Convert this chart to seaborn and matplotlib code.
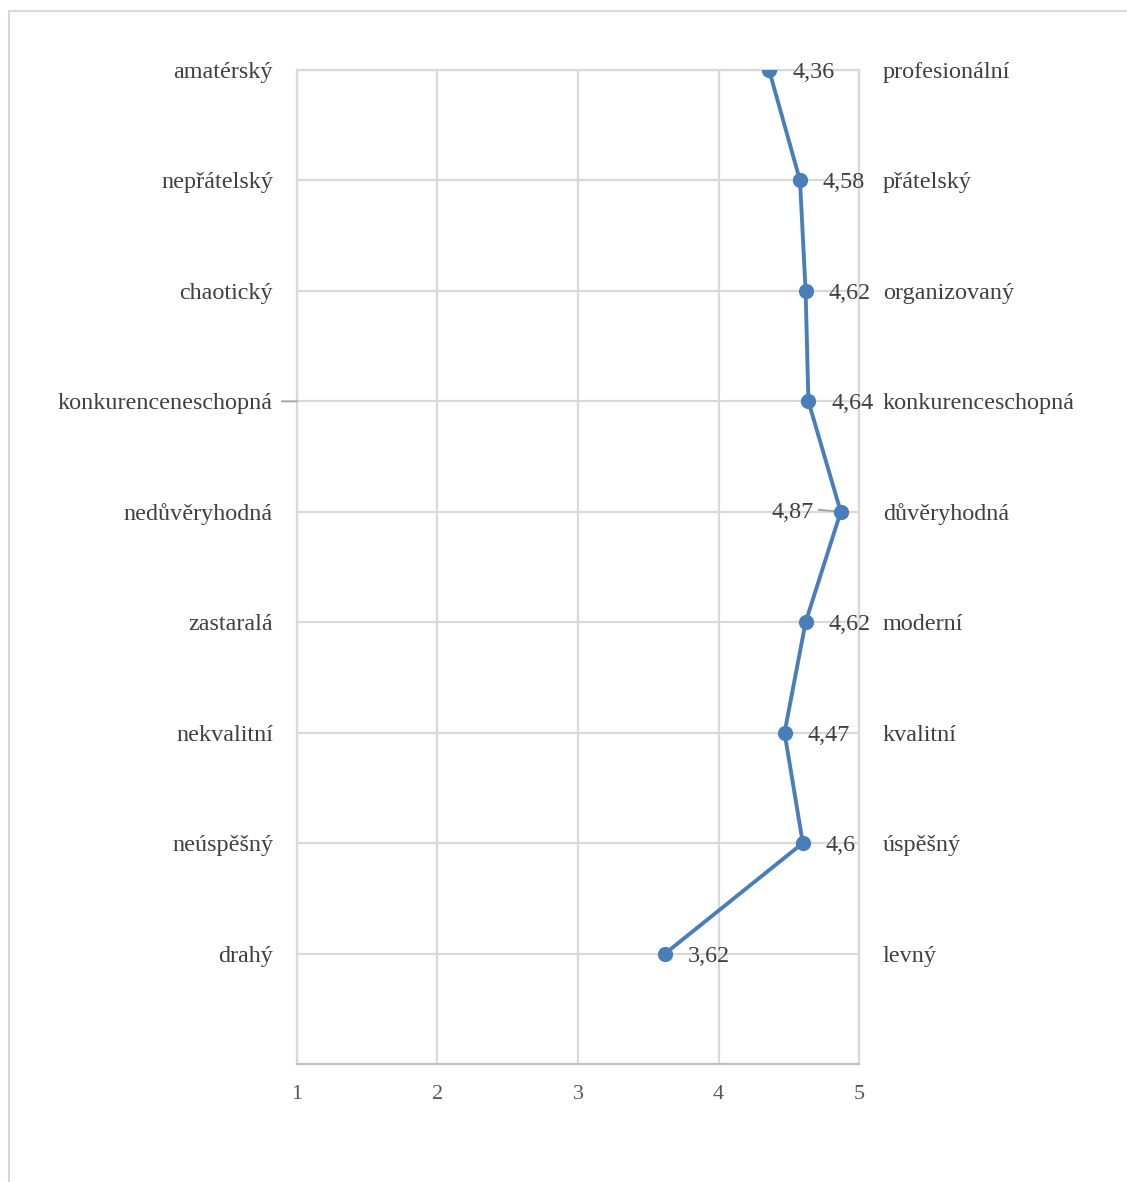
import matplotlib
matplotlib.use("Agg")
import matplotlib.pyplot as plt
import matplotlib.patches as mpatches
import seaborn as sns
import pandas as pd

# Semantic differential: negative pole (left), positive pole (right), mean score
left_labels = ["amatérský", "nepřátelský", "chaotický", "konkurenceneschopná",
               "nedůvěryhodná", "zastaralá", "nekvalitní", "neúspěšný", "drahý"]
right_labels = ["profesionální", "přátelský", "organizovaný", "konkurenceschopná",
                "důvěryhodná", "moderní", "kvalitní", "úspěšný", "levný"]
scores = [4.36, 4.58, 4.62, 4.64, 4.87, 4.62, 4.47, 4.6, 3.62]
score_labels = ["4,36", "4,58", "4,62", "4,64", "4,87", "4,62", "4,47", "4,6", "3,62"]
x_ticks = [1, 2, 3, 4, 5]

sns.set_theme(style="white")
plt.rcParams["font.family"] = ["Liberation Serif", "DejaVu Serif"]

W, H = 1127, 1182
fig = plt.figure(figsize=(W / 100, H / 100), dpi=100)
ax = fig.add_axes([297 / W, 1 - 1064 / H, (859 - 297) / W, (1064 - 70) / H])

df = pd.DataFrame({"score": scores, "pos": range(len(scores))})
line_color = "#4A7EBB"
sns.lineplot(data=df, x="score", y="pos", sort=False, estimator=None, ax=ax,
             color=line_color, linewidth=2.8, marker="o", markersize=11,
             markeredgewidth=0, zorder=5)

ax.set_xlim(1, 5)
ax.set_ylim(len(scores), 0)
ax.set_xticks(x_ticks)
ax.set_xticklabels([str(t) for t in x_ticks])
ax.set_yticks(range(len(scores)))
ax.set_yticklabels([])
ax.set_xlabel("")
ax.set_ylabel("")

grid_color = "#d9d9d9"
ax.grid(True, color=grid_color, linewidth=1.6)
ax.set_axisbelow(True)
for side in ["left", "right", "top"]:
    ax.spines[side].set_visible(True)
    ax.spines[side].set_color(grid_color)
    ax.spines[side].set_linewidth(1.6)
ax.spines["bottom"].set_color("#bfbfbf")
ax.spines["bottom"].set_linewidth(1.6)
ax.tick_params(axis="x", length=0, pad=15, labelsize=16, labelcolor="#595959")
ax.tick_params(axis="y", length=0)

text_color = "#404040"
fs = 17.4
for i, (lt, rt) in enumerate(zip(left_labels, right_labels)):
    ax.annotate(lt, xy=(0, i), xycoords=("axes fraction", "data"),
                xytext=(-24, 0), textcoords="offset pixels",
                ha="right", va="center_baseline", fontsize=fs, color=text_color)
    ax.annotate(rt, xy=(1, i), xycoords=("axes fraction", "data"),
                xytext=(24, 0), textcoords="offset pixels",
                ha="left", va="center_baseline", fontsize=fs, color=text_color)

for i, (v, lab) in enumerate(zip(scores, score_labels)):
    if v >= 4.8:
        ax.annotate(lab, xy=(v, i), xytext=(-27, 2), textcoords="offset pixels",
                    ha="right", va="center_baseline", fontsize=fs,
                    color=text_color, zorder=6)
        ax.annotate("", xy=(v, i), xytext=(-22, 2), textcoords="offset pixels",
                    arrowprops=dict(arrowstyle="-", color="#a6a6a6", lw=1.4,
                                    shrinkA=0, shrinkB=0), zorder=4)
    else:
        ax.annotate(lab, xy=(v, i), xytext=(23, 0), textcoords="offset pixels",
                    ha="left", va="center_baseline", fontsize=fs,
                    color=text_color, zorder=6)

# leader mark beside the long left label
idx = left_labels.index("konkurenceneschopná")
ax.annotate("", xy=(0, idx), xycoords=("axes fraction", "data"),
            xytext=(-15, 0), textcoords="offset pixels",
            arrowprops=dict(arrowstyle="-", color="#a6a6a6", lw=1.4,
                            shrinkA=0, shrinkB=0), annotation_clip=False)

# chart area frame
fig.patches.append(mpatches.Rectangle((8.5 / W, -0.1), 1.2, 1.1 - 10.5 / H,
                                      transform=fig.transFigure, fill=False,
                                      edgecolor="#d9d9d9", linewidth=1.5))

fig.savefig("out.png", dpi=100)
